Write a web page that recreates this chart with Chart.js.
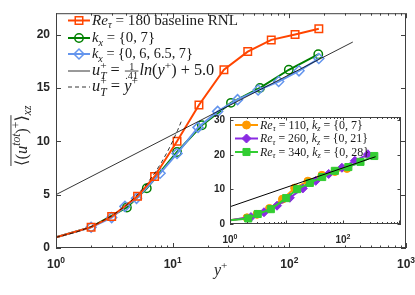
<!DOCTYPE html>
<html>
<head>
<meta charset="utf-8">
<script src="https://cdn.jsdelivr.net/npm/chart.js@4.4.1/dist/chart.umd.min.js"></script>
<style>
    html, body { margin: 0; padding: 0; background: #fff; }
    #wrap { position: relative; width: 415px; height: 295px; }
    #main { position: absolute; left: 0; top: 0; }
    #inset { position: absolute; left: 200px; top: 100px; }
</style>
</head>
<body>
<div id="wrap">
    <canvas id="main" width="415" height="295"></canvas>
    <canvas id="inset" width="210" height="145"></canvas>
</div>
<script>
// main plot, Re_tau = 180
const redX = [1, 2, 3, 5, 7, 10.9, 16.8, 27.5, 44, 70, 112, 179];
const redY = [1.0, 1.95, 2.95, 4.85, 6.7, 10.0, 13.4, 16.7, 18.4, 19.5, 20.0, 20.55];
const greenX = [1, 2, 4.05, 6.0, 10.9, 17.8, 31.6, 56, 99, 177];
const greenY = [1.0, 1.95, 3.8, 5.6, 9.0, 11.5, 13.6, 15.0, 16.7, 18.15];
const blueX = [1, 2, 3, 3.9, 4.9, 7.8, 10.9, 16.5, 24.3, 36, 54, 81, 121, 179];
const blueY = [1.0, 1.95, 2.85, 3.9, 4.65, 7.0, 8.85, 11.3, 12.8, 13.9, 14.8, 15.6, 16.6, 17.75];
const logLawX = [1, 350];
const logLawY = [5.0, 19.3];
const viscX = [1, 1.5, 2, 3, 4, 5, 6, 7, 8, 9, 10, 11, 12];
const viscY = [1, 1.5, 2, 3, 4, 5, 6, 7, 8, 9, 10, 11, 12];

// inset, other Re_tau
const orangeX = [1, 2, 3, 5, 8.5, 14, 24, 42.5, 72, 118];
const orangeY = [1.1, 1.8, 2.8, 4.5, 7.2, 10.4, 12.4, 14.1, 15.2, 16.1];
const purpleX = [1, 2.35, 4, 6.8, 11.5, 19.5, 33, 56, 96, 163, 277];
const purpleY = [1.1, 2.0, 3.4, 5.3, 7.6, 10.3, 12.5, 14.5, 16.3, 18.3, 20.2];
const limeX = [1, 2.1, 3.1, 5.3, 9.9, 15.5, 26, 43, 72, 125, 205, 360];
const limeY = [1.1, 1.6, 2.9, 4.3, 7.5, 10.1, 11.9, 13.6, 15.4, 16.5, 18.0, 19.7];
const insetLogX = [1, 380];
const insetLogY = [5.0, 19.5];

// ticks
const mainXMajor = [1, 10, 100, 1000];
const mainXLabels = [1, 10, 100, 1000];
const mainYTicks = [0, 5, 10, 15, 20];
const insetXMajor = [1, 10, 100, 1000];
const insetXLabels = [1, 100];
const insetYTicks = [0, 10, 20, 30];

const RED = '#FF4500', GREEN = '#008000', BLUE = '#6495ED';
const ORANGE = '#FF9900', PURPLE = '#8A2BE2', LIME = '#32CD32';
const AXIS = '#404040';
const SERIF = "'Liberation Serif', 'DejaVu Serif', serif";
const SANS = "'Liberation Sans', 'DejaVu Sans', sans-serif";

function pts(xs, ys) {
    return xs.map((x, i) => ({ x: x, y: ys[i] }));
}

// hide marker of points sitting on the left edge / hidden under other curves
function radii(xs, r, hidden) {
    return xs.map((x, i) => hidden.indexOf(i) >= 0 ? 0 : r);
}

// draw a list of text parts (italic, sub, sup, fraction), y is the baseline
function drawRich(ctx, parts, x, y, size, draw) {
    let cx = x;
    parts.forEach(p => {
        if (p.frac) {
            const s = size * 0.62;
            ctx.font = s + 'px ' + SERIF;
            const w = Math.max(ctx.measureText(p.frac[0]).width, ctx.measureText(p.frac[1]).width) + 1;
            if (draw) {
                const ly = y - size * 0.27;
                ctx.textAlign = 'center';
                ctx.fillText(p.frac[0], cx + 1 + w / 2, ly - 1.2);
                ctx.fillText(p.frac[1], cx + 1 + w / 2, ly + s * 0.72 + 1);
                ctx.textAlign = 'left';
                ctx.fillRect(cx + 1, ly - 0.4, w, 0.8);
            }
            cx += w + 2;
        } else if (p.subsup) {
            const s = size * 0.7;
            ctx.font = 'italic ' + s + 'px ' + SERIF;
            const w1 = ctx.measureText(p.subsup[0]).width;
            if (draw) ctx.fillText(p.subsup[0], cx, y + size * 0.25);
            ctx.font = s + 'px ' + SERIF;
            const w2 = ctx.measureText(p.subsup[1]).width;
            if (draw) ctx.fillText(p.subsup[1], cx, y - size * 0.4);
            cx += Math.max(w1, w2);
        } else {
            let s = size, dy = 0;
            if (p.sub) { s = size * 0.7; dy = size * 0.22; }
            if (p.sup) { s = size * 0.7; dy = -size * 0.4; }
            ctx.font = (p.it ? 'italic ' : '') + s + 'px ' + SERIF;
            if (draw) ctx.fillText(p.t, cx, y + dy);
            cx += ctx.measureText(p.t).width;
        }
    });
    return cx - x;
}

function fitRich(ctx, parts, x, y, size, width) {
    const w = drawRich(ctx, parts, x, y, size, false);
    drawRich(ctx, parts, x, y, width ? size * width / w : size, true);
}

// MATLAB style box with inward ticks on all sides, plus 10^n labels
function axesPlugin(cfg) {
    return {
        id: 'matlabAxes',
        beforeDraw(chart) {
            if (!cfg.white) return;
            const a = chart.chartArea, ctx = chart.ctx;
            ctx.save();
            ctx.fillStyle = '#fff';
            ctx.fillRect(a.left, a.top, a.right - a.left, a.bottom - a.top);
            ctx.restore();
        },
        afterDatasetsDraw(chart) {
            const a = chart.chartArea, ctx = chart.ctx;
            const xs = chart.scales.x, ys = chart.scales.y;
            ctx.save();
            ctx.strokeStyle = AXIS;
            ctx.lineWidth = 1;
            ctx.strokeRect(a.left + 0.5, a.top + 0.5, a.right - a.left - 1, a.bottom - a.top - 1);
            ctx.beginPath();
            cfg.xMajor.forEach(d => {
                for (let k = 1; k <= 9; k++) {
                    const v = d * k;
                    if (v > xs.max) break;
                    const px = Math.round(xs.getPixelForValue(v)) + 0.5;
                    const len = k === 1 ? cfg.major : cfg.minor;
                    ctx.moveTo(px, a.bottom); ctx.lineTo(px, a.bottom - len);
                    ctx.moveTo(px, a.top); ctx.lineTo(px, a.top + len);
                }
            });
            cfg.yTicks.forEach(v => {
                const py = Math.round(ys.getPixelForValue(v)) + 0.5;
                ctx.moveTo(a.left, py); ctx.lineTo(a.left + cfg.major, py);
                ctx.moveTo(a.right, py); ctx.lineTo(a.right - cfg.major, py);
            });
            ctx.stroke();

            // 10^n tick labels
            ctx.fillStyle = '#262626';
            ctx.textBaseline = 'alphabetic';
            ctx.textAlign = 'left';
            cfg.xLabels.forEach(v => {
                const e = String(Math.round(Math.log10(v)));
                ctx.font = 'bold ' + cfg.base + 'px ' + SANS;
                const wb = ctx.measureText('10').width;
                ctx.font = 'bold ' + cfg.exp + 'px ' + SANS;
                const we = ctx.measureText(e).width;
                const x0 = xs.getPixelForValue(v) - (wb + we) / 2;
                ctx.font = 'bold ' + cfg.base + 'px ' + SANS;
                ctx.fillText('10', x0, cfg.labelY);
                ctx.font = 'bold ' + cfg.exp + 'px ' + SANS;
                ctx.fillText(e, x0 + wb, cfg.labelY - cfg.raise);
            });
            ctx.restore();
        },
        afterDraw(chart) {
            if (cfg.legend) cfg.legend(chart.ctx);
        }
    };
}

function legendEntry(ctx, y, color, dash, width, marker, x1, x2, tx, parts, size, tw) {
    ctx.save();
    ctx.strokeStyle = color;
    ctx.lineWidth = width;
    ctx.setLineDash(dash);
    ctx.beginPath();
    ctx.moveTo(x1, y); ctx.lineTo(x2, y);
    ctx.stroke();
    ctx.setLineDash([]);
    if (marker) {
        ctx.fillStyle = marker.fill;
        ctx.lineWidth = marker.bw;
        Chart.helpers.drawPoint(ctx, { pointStyle: marker.style, radius: marker.r, rotation: 0, borderWidth: marker.bw }, (x1 + x2) / 2, y);
    }
    ctx.fillStyle = '#1a1a1a';
    ctx.textAlign = 'left';
    ctx.textBaseline = 'alphabetic';
    fitRich(ctx, parts, tx, y + size * 0.34, size, tw);
    ctx.restore();
}

function mainLegend(ctx) {
    const none = 'rgba(0,0,0,0)';
    legendEntry(ctx, 20.5, RED, [], 2, { style: 'rect', r: 5.3, fill: none, bw: 1.5 }, 68, 90, 92,
        [{ t: 'Re', it: true }, { t: 'τ', it: true, sub: true }, { t: ' = 180 baseline RNL' }], 13, 146);
    legendEntry(ctx, 38, GREEN, [], 2, { style: 'circle', r: 4.2, fill: none, bw: 1.5 }, 68, 90, 92,
        [{ t: 'k', it: true }, { t: 'x', it: true, sub: true }, { t: ' = {0, 7}' }], 13, 63);
    legendEntry(ctx, 54, BLUE, [], 2, { style: 'rectRot', r: 5, fill: none, bw: 1.5 }, 68, 90, 92,
        [{ t: 'k', it: true }, { t: 'x', it: true, sub: true }, { t: ' = {0, 6, 6.5, 7}' }], 13, 101);
    legendEntry(ctx, 71, '#000', [], 0.8, null, 68, 90, 92,
        [{ t: 'u', it: true }, { subsup: ['T', '+'] }, { t: ' = ' }, { frac: ['1', '.41'] }, { t: 'ln', it: true },
         { t: '(' }, { t: 'y', it: true }, { t: '+', sup: true }, { t: ') + 5.0' }], 13, 123);
    legendEntry(ctx, 87, '#000', [4, 3], 0.8, null, 68, 90, 92,
        [{ t: 'u', it: true }, { subsup: ['T', '+'] }, { t: ' = ' }, { t: 'y', it: true }, { t: '+', sup: true }], 13, 46);

    // axis titles
    ctx.save();
    ctx.fillStyle = '#262626';
    ctx.textBaseline = 'alphabetic';
    fitRich(ctx, [{ t: 'y', it: true }, { t: '+', sup: true }], 214, 275, 16, 0);
    ctx.translate(27, 166);
    ctx.rotate(-Math.PI / 2);
    const bar = [{ t: '⟨(' }, { t: 'u', it: true }, { t: 'tot', it: true, sup: true }, { t: ')' }, { t: '+', sup: true }, { t: '⟩' }];
    const wBar = drawRich(ctx, bar, 0, 0, 16.5, false);
    drawRich(ctx, bar, 0, 0, 16.5, true);
    drawRich(ctx, [{ t: 'xz', it: true, sub: true }], wBar, 0, 16.5, true);
    ctx.fillRect(0, -16.5, wBar, 0.9);
    ctx.restore();
}

function insetLegend(ctx) {
    legendEntry(ctx, 25, ORANGE, [], 2, { style: 'circle', r: 4, fill: ORANGE, bw: 1 }, 35, 58, 60,
        [{ t: 'Re', it: true }, { t: 'τ', it: true, sub: true }, { t: ' = 110, ' }, { t: 'k', it: true }, { t: 'z', it: true, sub: true }, { t: ' = {0, 7}' }], 11, 103);
    legendEntry(ctx, 38.5, PURPLE, [], 2, { style: 'rectRot', r: 4.5, fill: PURPLE, bw: 1 }, 35, 58, 60,
        [{ t: 'Re', it: true }, { t: 'τ', it: true, sub: true }, { t: ' = 260, ' }, { t: 'k', it: true }, { t: 'z', it: true, sub: true }, { t: ' = {0, 21}' }], 11, 108);
    legendEntry(ctx, 52, LIME, [], 2, { style: 'rect', r: 5, fill: LIME, bw: 1 }, 35, 58, 60,
        [{ t: 'Re', it: true }, { t: 'τ', it: true, sub: true }, { t: ' = 340, ' }, { t: 'k', it: true }, { t: 'z', it: true, sub: true }, { t: ' = {0, 28}' }], 11, 109);
}

function tickFont(size) {
    return { family: SANS, size: size, weight: 'bold' };
}

// main chart
new Chart(document.getElementById('main'), {
    type: 'line',
    data: {
        datasets: [
            { label: 'u = y+', data: pts(viscX, viscY), borderColor: '#000', borderWidth: 0.8, borderDash: [4, 3], pointRadius: 0 },
            { label: 'log law', data: pts(logLawX, logLawY), borderColor: '#000', borderWidth: 0.8, pointRadius: 0 },
            { label: 'Re 180 baseline RNL', data: pts(redX, redY), borderColor: RED, borderWidth: 2,
              pointStyle: 'rect', pointRadius: radii(redX, 5.3, [0]), pointBorderWidth: 1.5,
              pointBorderColor: RED, pointBackgroundColor: 'rgba(0,0,0,0)' },
            { label: 'kx 0 6 6.5 7', data: pts(blueX, blueY), borderColor: BLUE, borderWidth: 2,
              pointStyle: 'rectRot', pointRadius: radii(blueX, 5, [0]), pointBorderWidth: 1.5,
              pointBorderColor: BLUE, pointBackgroundColor: 'rgba(0,0,0,0)' },
            { label: 'kx 0 7', data: pts(greenX, greenY), borderColor: GREEN, borderWidth: 2,
              pointStyle: 'circle', pointRadius: radii(greenX, 4.2, [0, 1]), pointBorderWidth: 1.5,
              pointBorderColor: GREEN, pointBackgroundColor: 'rgba(0,0,0,0)' }
        ]
    },
    options: {
        responsive: false,
        animation: false,
        layout: { padding: { top: 8, right: 9, left: 0, bottom: 0 } },
        plugins: { legend: { display: false }, tooltip: { enabled: false } },
        scales: {
            x: {
                type: 'logarithmic', min: 1, max: 1000,
                afterFit(s) { s.height = 47; },
                grid: { display: false, drawTicks: false },
                border: { display: false },
                ticks: { display: false }
            },
            y: {
                type: 'linear', min: 0, max: 22,
                afterFit(s) { s.width = 56; },
                afterBuildTicks(s) { s.ticks = mainYTicks.map(v => ({ value: v })); },
                grid: { display: false, drawTicks: false },
                border: { display: false },
                ticks: { font: tickFont(12), color: '#262626', padding: 6 }
            }
        }
    },
    plugins: [axesPlugin({ xMajor: mainXMajor, xLabels: mainXLabels, yTicks: mainYTicks, major: 5, minor: 2.5,
        base: 12, exp: 8.5, labelY: 268, raise: 5, legend: mainLegend })]
});

// inset chart
new Chart(document.getElementById('inset'), {
    type: 'line',
    data: {
        datasets: [
            { label: 'log law', data: pts(insetLogX, insetLogY), borderColor: '#000', borderWidth: 1, pointRadius: 0 },
            { label: 'Re 340', data: pts(limeX, limeY), borderColor: LIME, borderWidth: 2,
              pointStyle: 'rect', pointRadius: radii(limeX, 5, [0]), pointBorderWidth: 1,
              pointBorderColor: LIME, pointBackgroundColor: LIME },
            { label: 'Re 260', data: pts(purpleX, purpleY), borderColor: PURPLE, borderWidth: 2,
              pointStyle: 'rectRot', pointRadius: radii(purpleX, 4.5, [0]), pointBorderWidth: 1,
              pointBorderColor: PURPLE, pointBackgroundColor: PURPLE },
            { label: 'Re 110', data: pts(orangeX, orangeY), borderColor: ORANGE, borderWidth: 2,
              pointStyle: 'circle', pointRadius: radii(orangeX, 4, [0]), pointBorderWidth: 1,
              pointBorderColor: ORANGE, pointBackgroundColor: ORANGE }
        ]
    },
    options: {
        responsive: false,
        animation: false,
        layout: { padding: { top: 17, right: 9, left: 0, bottom: 0 } },
        plugins: { legend: { display: false }, tooltip: { enabled: false } },
        scales: {
            x: {
                type: 'logarithmic', min: 1, max: 1070,
                afterFit(s) { s.height = 21; },
                grid: { display: false, drawTicks: false },
                border: { display: false },
                ticks: { display: false }
            },
            y: {
                type: 'linear', min: 0, max: 31,
                afterFit(s) { s.width = 30; },
                afterBuildTicks(s) { s.ticks = insetYTicks.map(v => ({ value: v })); },
                grid: { display: false, drawTicks: false },
                border: { display: false },
                ticks: { font: tickFont(10), color: '#262626', padding: 5 }
            }
        }
    },
    plugins: [axesPlugin({ xMajor: insetXMajor, xLabels: insetXLabels, yTicks: insetYTicks, major: 3.5, minor: 2,
        base: 10, exp: 7, labelY: 143, raise: 4, white: true, legend: insetLegend })]
});
</script>
</body>
</html>
